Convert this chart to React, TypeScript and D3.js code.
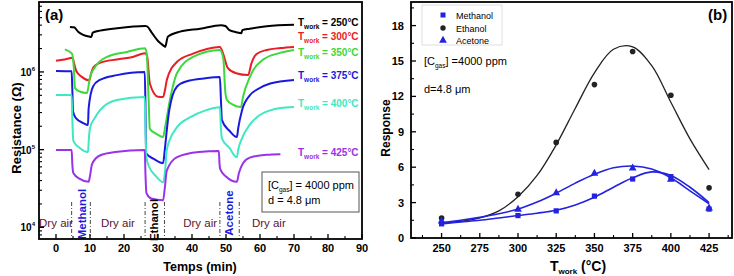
import React from 'react';
import * as d3 from 'd3';

type Pt = [number, number];

const FONT = "'Liberation Sans Narrow', 'Liberation Sans', Arial, sans-serif";

// ---------- Panel (a): resistance (Ohm) vs time (min) ----------
const r250: Pt[] = [
  [4.1, 3.8e6], [5.3, 3.75e6], [6.5, 3.3e6], [8, 3.0e6], [9.8, 2.85e6], [10.4, 2.82e6], [10.8, 3.2e6],
  [12.9, 3.4e6], [17.9, 3.65e6], [26.2, 3.9e6], [26.8, 3.85e6], [28.2, 3.18e6], [30, 2.5e6],
  [31.8, 2.15e6], [32.1, 2.1e6], [32.9, 2.83e6], [36.5, 3.3e6], [42.4, 3.6e6], [48.5, 4.0e6],
  [49.8, 3.9e6], [51, 3.45e6], [53, 3.25e6], [54.5, 3.15e6], [54.8, 3.45e6], [57, 3.6e6],
  [62, 3.88e6], [70, 4.05e6],
];
const r300: Pt[] = [
  [0, 1.39e6], [2.5, 1.45e6], [4.9, 1.52e6], [5.3, 1.3e6], [6, 1.02e6], [7.5, 8.7e5], [9.8, 7.8e5],
  [10.3, 9.5e5], [11, 1.15e6], [12.9, 1.31e6], [17.9, 1.45e6], [22.6, 1.56e6], [26.2, 1.74e6],
  [26.8, 1.6e6], [27.6, 7.1e5], [30, 4.8e5], [31.5, 4.76e5], [32.1, 6e5], [32.6, 7.9e5],
  [35.6, 1.35e6], [40.3, 1.72e6], [48.2, 2.1e6], [49.2, 1.7e6], [50.5, 1.13e6], [53, 9.6e5],
  [56.5, 9.1e5], [57.5, 1.3e6], [59, 1.7e6], [62, 1.92e6], [66, 2.03e6], [70, 2.1e6],
];
const r350: Pt[] = [
  [2.6, 1.95e6], [4.7, 1.72e6], [5.2, 1.2e6], [5.6, 6.2e5], [7, 5.6e5], [9.1, 5.36e5], [10, 8.6e5],
  [11.5, 1.16e6], [15, 1.56e6], [20.9, 1.81e6], [26.2, 2.02e6], [26.7, 1.7e6], [27.2, 5e5],
  [27.6, 1.85e5], [29.5, 1.6e5], [31.5, 1.45e5], [32.1, 1.95e5], [33.5, 4.36e5], [35.6, 9.7e5],
  [40.3, 1.56e6], [48.2, 1.92e6], [49.2, 1.5e6], [49.8, 5.5e5], [50.3, 4.36e5], [52, 3.8e5],
  [54.4, 3.53e5], [55, 4.76e5], [57, 8.6e5], [60.8, 1.43e6], [65.9, 1.76e6], [70, 1.92e6],
];
const r375: Pt[] = [
  [0, 1.03e6], [4.6, 1.02e6], [4.8, 6e5], [5, 3.1e5], [6, 2.5e5], [8, 2.2e5], [9.4, 2.07e5],
  [9.6, 3.4e5], [10.9, 6.5e5], [12.9, 7.9e5], [17.9, 9.1e5], [26.1, 1.0e6], [26.3, 4e5],
  [26.5, 9e4], [29, 7.5e4], [31.5, 6.7e4], [32, 1.0e5], [32.6, 1.8e5], [33.3, 3.2e5],
  [35.6, 6.5e5], [38.5, 7.6e5], [44, 8.3e5], [48.2, 8.6e5], [48.5, 4.5e5], [48.8, 2.4e5],
  [51, 1.75e5], [53.2, 1.45e5], [53.6, 1.9e5], [54.7, 3.2e5], [57, 5e5], [59, 5.9e5],
  [63, 7.1e5], [70, 7.9e5],
];
const r400: Pt[] = [
  [0, 5.05e5], [4.6, 5.05e5], [4.8, 2.5e5], [5.1, 1.3e5], [7, 1.05e5], [9.4, 9.3e4], [9.7, 1.45e5],
  [10, 1.9e5], [11.5, 2.6e5], [12.9, 3.2e5], [17.9, 4.36e5], [26.1, 4.76e5], [26.3, 2e5],
  [26.6, 8e4], [27.2, 6.3e4], [29.5, 4.5e4], [31.6, 3.8e4], [32.1, 5.5e4], [32.6, 1.0e5],
  [33.5, 1.35e5], [35.6, 1.95e5], [39.4, 2.6e5], [44, 3.2e5], [48.2, 3.5e5], [48.5, 1.9e5],
  [48.8, 1.4e5], [51, 1.05e5], [53.2, 8e4], [53.6, 1.0e5], [54.7, 1.4e5], [57, 2.1e5],
  [59, 2.6e5], [63, 3.2e5], [66, 3.43e5], [70, 3.53e5],
];
const r425: Pt[] = [
  [0, 9.86e4], [4.6, 9.86e4], [4.8, 6.5e4], [5.1, 5e4], [7, 4.2e4], [9.6, 3.85e4], [10, 4.6e4],
  [10.6, 6.5e4], [12.9, 8.4e4], [17.4, 9.3e4], [26.1, 9.86e4], [26.3, 5e4], [26.6, 2.75e4],
  [28, 2.35e4], [31.5, 2.23e4], [32, 3.2e4], [32.6, 5.4e4], [35.6, 8e4], [42, 9.3e4],
  [47.9, 9.57e4], [48.1, 6.5e4], [48.3, 5.6e4], [50, 4.5e4], [53.2, 3.85e4], [53.8, 5e4],
  [55, 6.7e4], [57, 7.9e4], [62, 8.6e4], [66, 8.75e4],
];
const tempLabelsA = ['250', '300', '350', '375', '400', '425'];
const colorsA = ['#000000', '#ec1c24', '#3cd83c', '#1a1ade', '#3ee8c2', '#9a32e8'];
const seriesA = [r250, r300, r350, r375, r400, r425];

const xTicksA = [0, 10, 20, 30, 40, 50, 60, 70, 80, 90];
const xMinorA = [5, 15, 25, 35, 45, 55, 65, 75, 85];
const yDecadesA = [4, 5, 6];
const gasEdges = [4.6, 10.1, 26.2, 31.9, 48.2, 53.9];
const gasNames = ['Methanol', 'Ethanol', 'Acetone'];
const gasColors = ['#1a1ade', '#000000', '#1a1ade'];
const gasCenters = [7.6, 28.8, 50.9];
const dryAirCenters = [0, 18.2, 42.4, 62.6];

// ---------- Panel (b): response vs working temperature ----------
const tempsB = [250, 300, 325, 350, 375, 400, 425];
const methanolResp = [1.2, 1.9, 2.3, 3.55, 5.0, 5.2, 2.45];
const ethanolResp = [1.7, 3.7, 8.1, 13.0, 15.8, 12.1, 4.25];
const acetoneResp = [1.45, 2.45, 3.85, 5.5, 5.95, 5.0, 2.55];

const fitT = [250, 262.5, 275, 287.5, 300, 312.5, 325, 337.5, 350, 362.5, 375, 387.5, 400, 412.5, 425];
const ethanolFit = [1.3, 1.4, 1.7, 2.3, 3.5, 5.3, 7.9, 11.0, 14.0, 16.0, 16.2, 14.6, 11.5, 8.4, 5.8];
const methanolFit = [1.2, 1.35, 1.5, 1.7, 1.9, 2.1, 2.35, 2.8, 3.45, 4.3, 5.1, 5.6, 5.3, 4.3, 3.0];
const acetoneFit = [1.3, 1.5, 1.75, 2.05, 2.45, 3.05, 3.8, 4.65, 5.4, 5.95, 6.1, 5.85, 5.1, 4.0, 2.9];

const xTicksB = [250, 275, 300, 325, 350, 375, 400, 425];
const yTicksB = [0, 3, 6, 9, 12, 15, 18];

const BLUE = '#2222e0';

export default function App() {
  // panel a scales
  const xA = d3.scaleLinear().domain([-5, 90]).range([39, 362]);
  const yA = d3.scaleLog().domain([10 ** 3.85, 10 ** 6.9]).range([239, 2]);
  const lineA = d3.line<Pt>().x(d => xA(d[0])).y(d => yA(d[1])).curve(d3.curveMonotoneX);

  const yMinorA: number[] = [];
  for (let dec = 3; dec <= 6; dec++) {
    for (let k = 2; k <= 9; k++) {
      const v = k * 10 ** dec;
      if (v > 10 ** 3.85 && v < 10 ** 6.9) yMinorA.push(v);
    }
  }

  // panel b scales
  const xB = d3.scaleLinear().domain([230, 440]).range([411, 732]);
  const yB = d3.scaleLinear().domain([0, 20]).range([238, 2]);
  const fitLine = (vals: number[]) =>
    d3.line<number>().x((_, i) => xB(fitT[i])).y(v => yB(v)).curve(d3.curveCatmullRom.alpha(0.5))(vals) || '';
  const xMinorB = d3.range(237.5, 440, 12.5).filter(v => !xTicksB.includes(v));
  const yMinorB = d3.range(1.5, 20, 3);

  const tri = (cx: number, cy: number, s: number) =>
    `M${cx},${cy - s * 0.62}L${cx + s * 0.55},${cy + s * 0.38}L${cx - s * 0.55},${cy + s * 0.38}Z`;

  const labelBaselines = [26, 40, 56, 79, 107, 156];
  const gasLabelY = [214, 220, 213];

  return (
    <svg width={734} height={276} style={{ position: 'absolute', left: 0, top: 0, background: '#fff' }}
      fontFamily={FONT}>
      <rect x={0} y={0} width={734} height={276} fill="#fff" />
      {/* ===== Panel (a) ===== */}
      {seriesA.map((s, i) => (
        <path key={'c' + i} d={lineA(s) || ''} fill="none" stroke={colorsA[i]} strokeWidth={2} strokeLinejoin="round" />
      ))}
      {gasEdges.map((t, i) => (
        <line key={'g' + i} x1={xA(t)} x2={xA(t)} y1={202} y2={239} stroke="#333" strokeWidth={0.9}
          strokeDasharray="4,2,1,2" />
      ))}
      {gasNames.map((g, i) => (
        <text key={'gn' + i} transform={`translate(${xA(gasCenters[i]) + 4},${gasLabelY[i]}) rotate(-90)`}
          textAnchor="middle" fontSize={11.5} fontWeight="bold" fill={gasColors[i]}>{g}</text>
      ))}
      {dryAirCenters.map((t, i) => (
        <text key={'da' + i} x={xA(t)} y={227} textAnchor="middle" fontSize={11.5} fill="#5c1530">Dry air</text>
      ))}
      {tempLabelsA.map((l, i) => (
        <text key={'tl' + i} x={298} y={labelBaselines[i]} fontSize={10} fontWeight="bold" fill={colorsA[i]}>
          T<tspan fontSize={6.5} dy={3}>work</tspan><tspan dy={-3}> = {l}°C</tspan>
        </text>
      ))}
      <rect x={262} y={172} width={97} height={40} fill="#fff" stroke="#555" strokeWidth={1} />
      <text x={268} y={189} fontSize={11}>[C<tspan fontSize={6.5} dy={3}>gas</tspan><tspan dy={-3}>] = 4000 ppm</tspan></text>
      <text x={268} y={204} fontSize={11}>d = 4.8 μm</text>
      <text x={45} y={20} fontSize={15} fontWeight="bold">(a)</text>

      {/* axes a */}
      <rect x={39} y={2} width={323} height={237} fill="none" stroke="#000" strokeWidth={1.8} />
      {xTicksA.map(t => (
        <g key={'xa' + t}>
          <line x1={xA(t)} x2={xA(t)} y1={239} y2={234} stroke="#000" strokeWidth={1.3} />
          <text x={xA(t)} y={252} textAnchor="middle" fontSize={11} fontWeight="bold">{t}</text>
        </g>
      ))}
      {xMinorA.map(t => (
        <line key={'xam' + t} x1={xA(t)} x2={xA(t)} y1={239} y2={236} stroke="#000" strokeWidth={1.1} />
      ))}
      {yDecadesA.map(d => (
        <g key={'ya' + d}>
          <line x1={39} x2={44} y1={yA(10 ** d)} y2={yA(10 ** d)} stroke="#000" strokeWidth={1.3} />
          <text x={35} y={yA(10 ** d) + 4} textAnchor="end" fontSize={10} fontWeight="bold">
            10<tspan fontSize={6} dy={-5}>{d}</tspan>
          </text>
        </g>
      ))}
      {yMinorA.map((v, i) => (
        <line key={'yam' + i} x1={39} x2={42} y1={yA(v)} y2={yA(v)} stroke="#000" strokeWidth={1.1} />
      ))}
      <text x={200} y={271} textAnchor="middle" fontSize={12.5} fontWeight="bold">Temps (min)</text>
      <text transform="translate(21,128) rotate(-90)" textAnchor="middle" fontSize={13} fontWeight="bold">Resistance (Ω)</text>

      {/* ===== Panel (b) ===== */}
      <path d={fitLine(ethanolFit)} fill="none" stroke="#222" strokeWidth={1.3} />
      <path d={fitLine(methanolFit)} fill="none" stroke={BLUE} strokeWidth={1.6} />
      <path d={fitLine(acetoneFit)} fill="none" stroke={BLUE} strokeWidth={1.6} />
      {tempsB.map((t, i) => (
        <g key={'pb' + i}>
          <circle cx={xB(t)} cy={yB(ethanolResp[i])} r={2.8} fill="#222" />
          <rect x={xB(t) - 2.6} y={yB(methanolResp[i]) - 2.6} width={5.2} height={5.2} fill={BLUE} />
          <path d={tri(xB(t), yB(acetoneResp[i]), 7)} fill={BLUE} />
        </g>
      ))}
      {/* legend */}
      <rect x={422} y={5} width={80} height={40} fill="none" stroke="#c8c8c8" strokeWidth={0.6} />
      <rect x={440.5} y={12.5} width={5} height={5} fill={BLUE} />
      <circle cx={443} cy={28} r={2.7} fill="#222" />
      <path d={tri(443, 40, 7)} fill={BLUE} />
      <text x={456} y={18.5} fontSize={9}>Methanol</text>
      <text x={456} y={31.5} fontSize={9}>Ethanol</text>
      <text x={456} y={43.5} fontSize={9}>Acetone</text>
      <text x={424} y={65} fontSize={11}>[C<tspan fontSize={6.5} dy={3}>gas</tspan><tspan dy={-3}>] =4000 ppm</tspan></text>
      <text x={424} y={93} fontSize={11}>d=4.8 μm</text>
      <text x={708} y={20} fontSize={15} fontWeight="bold">(b)</text>

      <rect x={411} y={2} width={321} height={236} fill="none" stroke="#000" strokeWidth={1.8} />
      {xTicksB.map(t => (
        <g key={'xb' + t}>
          <line x1={xB(t)} x2={xB(t)} y1={238} y2={233} stroke="#000" strokeWidth={1.3} />
          <text x={xB(t)} y={252} textAnchor="middle" fontSize={11} fontWeight="bold">{t}</text>
        </g>
      ))}
      {xMinorB.map(t => (
        <line key={'xbm' + t} x1={xB(t)} x2={xB(t)} y1={238} y2={235} stroke="#000" strokeWidth={1.1} />
      ))}
      {yTicksB.map(v => (
        <g key={'yb' + v}>
          <line x1={411} x2={416} y1={yB(v)} y2={yB(v)} stroke="#000" strokeWidth={1.3} />
          <text x={404} y={yB(v) + 4} textAnchor="end" fontSize={11} fontWeight="bold">{v}</text>
        </g>
      ))}
      {yMinorB.map(v => (
        <line key={'ybm' + v} x1={411} x2={414} y1={yB(v)} y2={yB(v)} stroke="#000" strokeWidth={1.1} />
      ))}
      <text x={578} y={271} textAnchor="middle" fontWeight="bold" fontSize={14}>
        T<tspan fontSize={8} dy={3}>work</tspan><tspan dy={-3}> (°C)</tspan>
      </text>
      <text transform="translate(390,128) rotate(-90)" textAnchor="middle" fontSize={12} fontWeight="bold">Response</text>
    </svg>
  );
}
